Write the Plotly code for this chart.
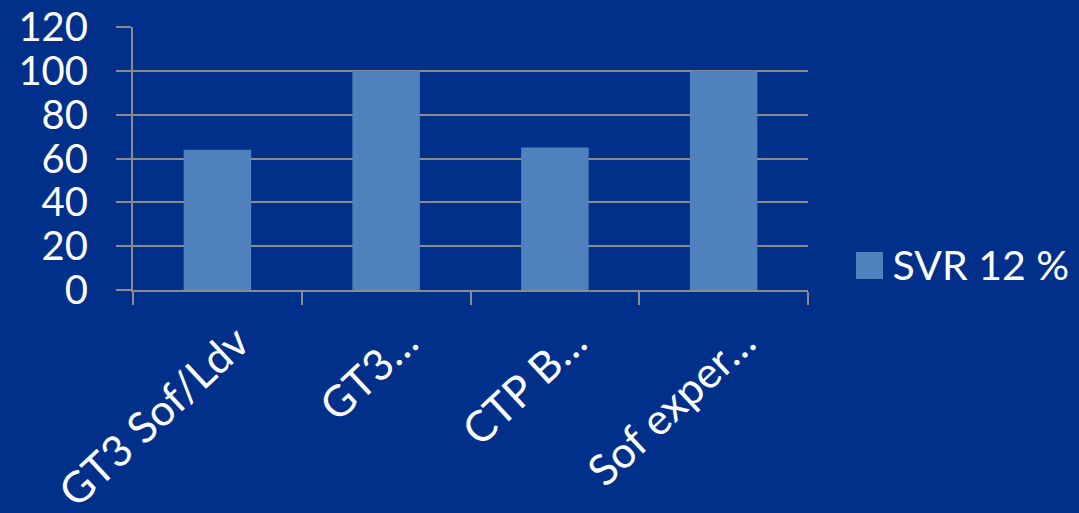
import plotly.graph_objects as go

categories = ["GT3 Sof/Ldv", "GT3…", "CTP B…", "Sof exper…"]
svr12 = [64, 100, 65, 100]
series_name = "SVR 12 %"
y_ticks = [0, 20, 40, 60, 80, 100, 120]

BG = "#00308A"
BAR = "#4F81BD"
GRID = "#8C8C8C"
FONT = "Lato"

fig = go.Figure()
fig.add_trace(go.Bar(x=categories, y=svr12, name=series_name, marker=dict(color=BAR, line=dict(width=0)),
                     width=0.4, showlegend=False))
# legend entry (text); the large square swatch is drawn as a shape below
fig.add_trace(go.Scatter(x=[None], y=[None], mode="markers", name=series_name,
                         marker=dict(symbol="square", size=1, color="rgba(0,0,0,0)"), showlegend=True))

fig.update_layout(
    width=1079, height=513,
    paper_bgcolor=BG, plot_bgcolor=BG,
    margin=dict(l=133, r=271, t=27, b=223, autoexpand=False),
    font=dict(family=FONT, color="white", size=40),
    showlegend=True,
    legend=dict(x=1.066, xanchor="left", y=0.099, yanchor="middle", bgcolor="rgba(0,0,0,0)",
                font=dict(size=41, color="white", family=FONT), tracegroupgap=0),
    bargap=0.6,
    shapes=[dict(type="rect", xref="paper", yref="paper",
                 x0=(856 - 133) / 675, x1=(883 - 133) / 675,
                 y0=(290 - 279) / 263, y1=(290 - 252) / 263,
                 fillcolor=BAR, line=dict(width=0))],
)
fig.update_yaxes(range=[0, 120], tickvals=y_ticks, showgrid=True, gridcolor=GRID, gridwidth=2,
                 ticks="outside", ticklen=15, tickcolor=GRID, tickwidth=2,
                 showline=True, linecolor=GRID, linewidth=2, zeroline=False,
                 tickfont=dict(size=40, color="white", family=FONT), ticklabelstandoff=20,
                 automargin=False)
fig.update_xaxes(type="category", tickson="boundaries", ticks="outside", ticklen=13, tickcolor=GRID,
                 tickwidth=2, showline=True, linecolor=GRID, linewidth=2, showgrid=False,
                 tickangle=-43, tickfont=dict(size=43, color="white", family=FONT),
                 ticklabelshift=20, ticklabelstandoff=8, automargin=False)

fig.write_html("out.html")
